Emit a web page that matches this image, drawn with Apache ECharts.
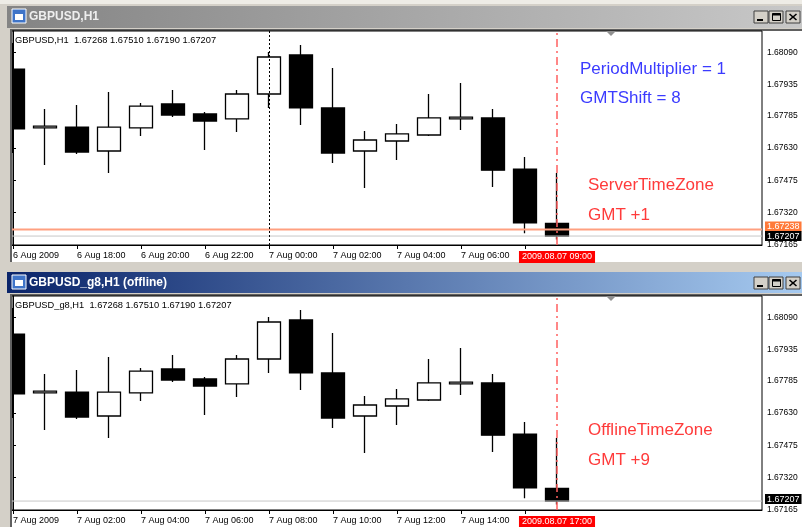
<!DOCTYPE html>
<html>
<head>
<meta charset="utf-8">
<script src="https://cdn.jsdelivr.net/npm/echarts@6.0.0/dist/echarts.min.js"></script>
<style>
  html, body { margin: 0; padding: 0; background: #d4d0c8; }
  #main { width: 802px; height: 527px; }
</style>
</head>
<body>
<div id="main"></div>
<script>
// hourly GBPUSD bars, 6 Aug 16:00 .. 7 Aug 09:00 server time
var opens  = [1.68010, 1.67727, 1.67731, 1.67616, 1.67727, 1.67842, 1.67794, 1.67770, 1.67890,
              1.68078, 1.67823, 1.67616, 1.67664, 1.67693, 1.67770, 1.67775, 1.67529, 1.67268];
var closes = [1.67722, 1.67736, 1.67611, 1.67731, 1.67832, 1.67789, 1.67760, 1.67890, 1.68068,
              1.67823, 1.67606, 1.67669, 1.67698, 1.67775, 1.67779, 1.67524, 1.67270, 1.67207];
var lows   = [1.67606, 1.67549, 1.67601, 1.67510, 1.67688, 1.67779, 1.67621, 1.67707, 1.67823,
              1.67741, 1.67558, 1.67438, 1.67573, 1.67688, 1.67717, 1.67443, 1.67221, 1.67190];
var highs  = [1.68135, 1.67818, 1.67837, 1.67900, 1.67847, 1.67909, 1.67803, 1.67909, 1.68092,
              1.68126, 1.68015, 1.67712, 1.67746, 1.67890, 1.67943, 1.67818, 1.67587, 1.67510];

var priceTicks = [1.68090, 1.67935, 1.67785, 1.67630, 1.67475, 1.67320, 1.67165];
var timeTickIdx = [0, 2, 4, 6, 8, 10, 12, 14, 16];
var timeLabelIdx = [0, 2, 4, 6, 8, 10, 12, 14];
var serverTimeLabels  = ['6 Aug 2009', '6 Aug 18:00', '6 Aug 20:00', '6 Aug 22:00',
                         '7 Aug 00:00', '7 Aug 02:00', '7 Aug 04:00', '7 Aug 06:00'];
var offlineTimeLabels = ['7 Aug 2009', '7 Aug 02:00', '7 Aug 04:00', '7 Aug 06:00',
                         '7 Aug 08:00', '7 Aug 10:00', '7 Aug 12:00', '7 Aug 14:00'];
var serverCursor = '2009.08.07 09:00';
var offlineCursor = '2009.08.07 17:00';
var cursorIdx = 17;
var daySepIdx = 8;
var askPrice = 1.67238;
var bidPrice = 1.67207;

var priceMin = 1.67164, priceMax = 1.68193;
var xMin = -1 / 32, xMax = 749 / 32;
var FONT = '"Liberation Sans", Arial, sans-serif';

var last = opens.length - 1;
var ohlcText = [opens[last], highs[last], lows[last], closes[last]]
  .map(function (v) { return v.toFixed(5); }).join(' ');

var bars = opens.map(function (o, i) {
  return [i, o, closes[i], lows[i], highs[i]];
});

function panelAxes(gi, labels) {
  return {
    x: {
      type: 'value', gridIndex: gi, min: xMin, max: xMax,
      axisLine: { show: true, lineStyle: { color: '#000', width: 1 } },
      axisTick: { show: true, length: 4, customValues: timeTickIdx, lineStyle: { color: '#000' } },
      axisLabel: {
        customValues: timeLabelIdx, align: 'left', margin: 6,
        fontSize: 9, color: '#000', fontFamily: FONT,
        formatter: function (v) { return labels[Math.round(v / 2)]; }
      },
      splitLine: { show: false }
    },
    y: {
      type: 'value', gridIndex: gi, position: 'right', min: priceMin, max: priceMax,
      axisLine: { show: true, lineStyle: { color: '#000', width: 1 } },
      axisTick: { show: true, length: 3, customValues: priceTicks, lineStyle: { color: '#000' } },
      axisLabel: {
        customValues: priceTicks, margin: 5, fontSize: 8.5, color: '#000', fontFamily: FONT,
        formatter: function (v) { return v.toFixed(5); }
      },
      splitLine: { show: false }
    }
  };
}

function boxLabel(text, bg, dist, pad) {
  return {
    show: true, formatter: function () { return text; }, distance: dist,
    backgroundColor: bg, color: '#fff', fontSize: 9, fontFamily: FONT, padding: pad,
    lineHeight: 10
  };
}

// horizontal price line (bid / ask) with its price box on the right axis
function priceLine(gi, price, color, width, boxBg, dy) {
  var lbl = boxLabel(price.toFixed(5), boxBg, 3, [0, 2]);
  lbl.offset = [0, dy];
  return {
    type: 'line', xAxisIndex: gi, yAxisIndex: gi, silent: true, animation: false,
    data: [[xMin, price], [xMax, price]], symbol: 'none',
    lineStyle: { color: color, width: width },
    endLabel: lbl
  };
}

function candleSeries(gi, cursorText, withDaySep) {
  var lines = [];
  if (withDaySep) {
    lines.push({ xAxis: daySepIdx, lineStyle: { color: '#000', type: [2, 2], width: 1 }, label: { show: false } });
  }
  var cl = boxLabel(cursorText, '#ff0000', 6, [1, 3]);
  cl.position = 'start';
  lines.push({ xAxis: cursorIdx, lineStyle: { color: '#ff6060', type: [8, 4, 2, 4], width: 1.5 }, label: cl });
  return {
    type: 'candlestick', xAxisIndex: gi, yAxisIndex: gi,
    data: bars, encode: { x: 0, y: [1, 2, 3, 4] },
    barWidth: 23, clip: true,
    itemStyle: { color: '#fff', color0: '#000', borderColor: '#000', borderColor0: '#000', borderWidth: 1.3 },
    markLine: { symbol: ['none', 'none'], silent: true, animation: false, data: lines },
    animation: false
  };
}

function titleBar(y0, h, c1, c2, title, textColor) {
  var els = [
    { type: 'rect', shape: { x: 7, y: y0, width: 795, height: h }, z: -5,
      style: { fill: new echarts.graphic.LinearGradient(0, 0, 1, 0, [{ offset: 0, color: c1 }, { offset: 1, color: c2 }]) } },
    { type: 'rect', shape: { x: 12, y: y0 + 3, width: 14, height: 14 }, z: 5, style: { fill: '#3f74c8', stroke: '#fff', lineWidth: 1 } },
    { type: 'rect', shape: { x: 15, y: y0 + 8, width: 8, height: 6 }, z: 6, style: { fill: '#fff' } },
    { type: 'text', z: 5, style: { text: title, x: 29, y: y0 + h / 2, fill: textColor, font: 'bold 12px ' + FONT, textVerticalAlign: 'middle' } }
  ];
  var bx = [754, 769, 786];
  bx.forEach(function (x) {
    els.push({ type: 'rect', shape: { x: x, y: y0 + 5, width: 14, height: 12 }, z: 5,
               style: { fill: '#d4d0c8', stroke: '#404040', lineWidth: 1 } });
  });
  els.push({ type: 'rect', shape: { x: 757, y: y0 + 13, width: 6, height: 2 }, z: 6, style: { fill: '#000' } });
  els.push({ type: 'rect', shape: { x: 772.5, y: y0 + 7.5, width: 8, height: 7 }, z: 6, style: { fill: 'none', stroke: '#000', lineWidth: 1 } });
  els.push({ type: 'rect', shape: { x: 772.5, y: y0 + 7.5, width: 8, height: 2 }, z: 6, style: { fill: '#000' } });
  els.push({ type: 'line', shape: { x1: 789.5, y1: y0 + 8, x2: 796.5, y2: y0 + 14 }, z: 6, style: { stroke: '#000', lineWidth: 1.6 } });
  els.push({ type: 'line', shape: { x1: 796.5, y1: y0 + 8, x2: 789.5, y2: y0 + 14 }, z: 6, style: { stroke: '#000', lineWidth: 1.6 } });
  return els;
}

function clientArea(y0, y1, headerName, notes) {
  var els = [
    { type: 'rect', shape: { x: 12, y: y0, width: 790, height: y1 - y0 }, z: -5, style: { fill: '#fff' } },
    // window frame on the left, drawn over the clipped first candle
    { type: 'rect', shape: { x: 0, y: y0 - 2, width: 10, height: y1 - y0 + 2 }, z: 20, style: { fill: '#d4d0c8' } },
    { type: 'rect', shape: { x: 10, y: y0 - 2, width: 2, height: y1 - y0 + 2 }, z: 20, style: { fill: '#606060' } },
    { type: 'rect', shape: { x: 10, y: y0 - 2, width: 792, height: 2 }, z: -4, style: { fill: '#606060' } },
    { type: 'polygon', shape: { points: [[606, y0], [616, y0], [611, y0 + 5]] }, z: 5, style: { fill: '#909090' } },
    { type: 'text', z: 5, style: { text: headerName + '  ' + ohlcText, x: 15, y: y0 + 9, fill: '#000', font: '9.3px ' + FONT, textVerticalAlign: 'middle' } }
  ];
  notes.forEach(function (n) {
    els.push({ type: 'text', z: 10, style: { text: n.text, x: n.x, y: n.y, fill: n.color, font: '17px ' + FONT, textVerticalAlign: 'middle' } });
  });
  return els;
}

var serverAxes = panelAxes(0, serverTimeLabels);
var offlineAxes = panelAxes(1, offlineTimeLabels);

var graphics = []
  .concat([{ type: 'rect', shape: { x: 0, y: 0, width: 802, height: 4 }, z: -6, style: { fill: '#eeece6' } }])
  .concat(titleBar(6, 22, '#848484', '#c8c8c8', 'GBPUSD,H1', '#eeeeee'))
  .concat(clientArea(31, 262, 'GBPUSD,H1', [
    { text: 'PeriodMultiplier = 1', x: 580, y: 69, color: '#3b3bff' },
    { text: 'GMTShift = 8', x: 580, y: 98, color: '#3b3bff' },
    { text: 'ServerTimeZone', x: 588, y: 185, color: '#ff3b3b' },
    { text: 'GMT +1', x: 588, y: 215, color: '#ff3b3b' }
  ]))
  .concat(titleBar(272, 21, '#0a246a', '#a6caf0', 'GBPUSD_g8,H1 (offline)', '#ffffff'))
  .concat(clientArea(296, 527, 'GBPUSD_g8,H1', [
    { text: 'OfflineTimeZone', x: 588, y: 430, color: '#ff3b3b' },
    { text: 'GMT +9', x: 588, y: 460, color: '#ff3b3b' }
  ]));

var chart = echarts.init(document.getElementById('main'), null, { renderer: 'canvas' });
chart.setOption({
  backgroundColor: '#d4d0c8',
  animation: false,
  graphic: { elements: graphics },
  grid: [
    { left: 12, top: 31, width: 750, height: 214, show: true, borderColor: '#000', borderWidth: 1, backgroundColor: 'transparent' },
    { left: 12, top: 296, width: 750, height: 214, show: true, borderColor: '#000', borderWidth: 1, backgroundColor: 'transparent' }
  ],
  xAxis: [serverAxes.x, offlineAxes.x],
  yAxis: [serverAxes.y, offlineAxes.y],
  series: [
    priceLine(0, askPrice, '#ffa080', 2, '#ff7a3a', -3),
    priceLine(0, bidPrice, '#c8c8c8', 1, '#000', 0),
    priceLine(1, bidPrice, '#c8c8c8', 1, '#000', -2),
    candleSeries(0, serverCursor, true),
    candleSeries(1, offlineCursor, false)
  ]
});
</script>
</body>
</html>
